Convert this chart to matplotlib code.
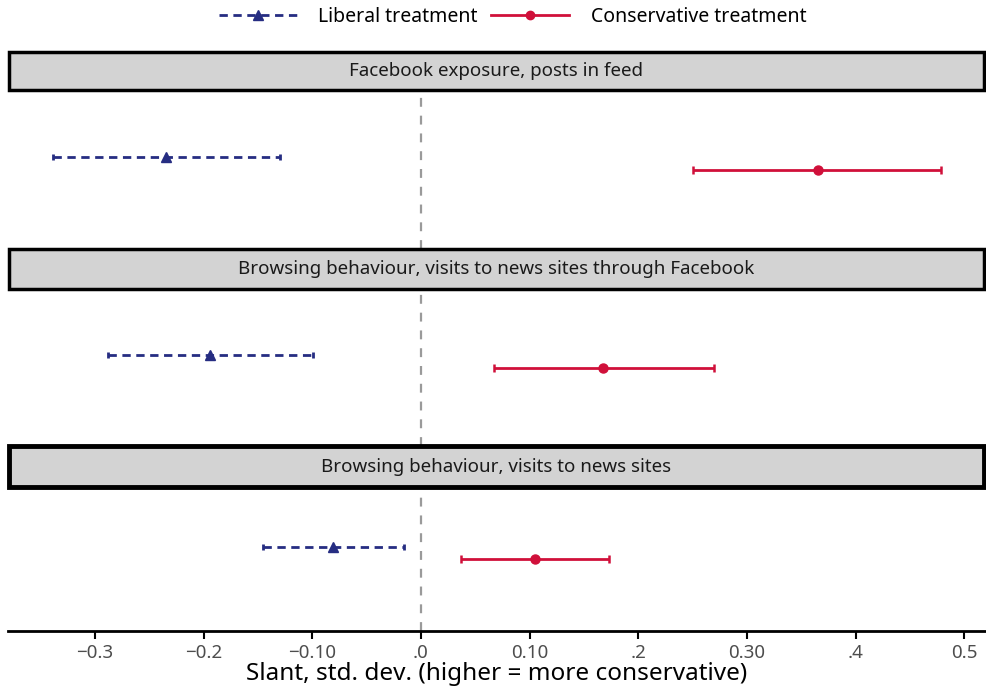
import matplotlib

matplotlib.use("Agg")
import matplotlib.pyplot as plt
from matplotlib.lines import Line2D
from matplotlib.patches import Rectangle

plt.rcParams["font.family"] = ["Noto Sans", "DejaVu Sans"]

# data
panels = [
    "Facebook exposure, posts in feed",
    "Browsing behaviour, visits to news sites through Facebook",
    "Browsing behaviour, visits to news sites",
]
liberal_est = [-0.235, -0.194, -0.081]
liberal_lo = [-0.339, -0.288, -0.145]
liberal_hi = [-0.130, -0.099, -0.016]
conserv_est = [0.365, 0.168, 0.105]
conserv_lo = [0.250, 0.067, 0.037]
conserv_hi = [0.479, 0.270, 0.173]

tick_values = [-0.3, -0.2, -0.1, 0.0, 0.1, 0.2, 0.3, 0.4, 0.5]
tick_labels = ["\u22120.3", "\u22120.2", "\u22120.10", ".0", "0.10", ".2", "0.30", ".4", "0.5"]

LIB_COLOR = "#262d82"
CON_COLOR = "#d0103a"
XLIM = (-0.380, 0.520)
LIB_DASH = (0, (3, 2))

W, H = 986, 689
fig = plt.figure(figsize=(W / 100, H / 100), dpi=100)


def px_axes(left, top, right, bottom, **kw):
    return fig.add_axes([left / W, 1 - bottom / H, (right - left) / W, (bottom - top) / H], **kw)


# (strip top, strip bottom, plot bottom) in pixels
layout = [(52, 90, 249), (249, 289, 446), (446, 487, 631)]
strip_lw = [2.5, 2.5, 3.5]

for i, (s_top, s_bot, p_bot) in enumerate(layout):
    ax = px_axes(8, s_bot, 986, p_bot)
    ax.patch.set_visible(False)
    ax.set_xlim(*XLIM)
    ax.set_ylim(-1, 1)
    ax.set_yticks([])
    for side in ["left", "right", "top"]:
        ax.spines[side].set_visible(False)
    ax.axvline(0, color="#9a9a9a", linestyle=(0, (4, 4)), linewidth=1.6, zorder=1)

    # liberal (dotted, triangle), slightly above centre
    eb = ax.errorbar(liberal_est[i], 0.16,
                     xerr=[[liberal_est[i] - liberal_lo[i]], [liberal_hi[i] - liberal_est[i]]],
                     fmt="^", color=LIB_COLOR, markersize=7.5, elinewidth=2, capsize=2.5,
                     capthick=2, zorder=3)
    eb[2][0].set_linestyle(LIB_DASH)

    ax.errorbar(conserv_est[i], 0.0,
                xerr=[[conserv_est[i] - conserv_lo[i]], [conserv_hi[i] - conserv_est[i]]],
                fmt="o", color=CON_COLOR, markersize=6.5, elinewidth=2, capsize=3,
                capthick=1.8, zorder=3)

    if i < 2:
        ax.spines["bottom"].set_visible(False)
        ax.set_xticks([])
    else:
        ax.spines["bottom"].set_linewidth(2)
        ax.set_xticks(tick_values)
        ax.set_xticklabels(tick_labels, fontsize=13.5, color="#4d4d4d")
        ax.tick_params(axis="x", length=6, width=1.5, color="black", pad=3)
        ax.set_xlabel("Slant, std. dev. (higher = more conservative)", fontsize=17.5,
                      color="black", labelpad=0)

    sax = px_axes(9, s_top, 984, s_bot)
    sax.set_xlim(0, 1)
    sax.set_ylim(0, 1)
    sax.axis("off")
    sax.add_patch(Rectangle((0, 0), 1, 1, transform=sax.transAxes, facecolor="#d3d3d3",
                            edgecolor="black", linewidth=strip_lw[i], clip_on=False))
    sax.text(0.5, 0.5, panels[i], ha="center", va="center", fontsize=13.5, color="#1a1a1a")

handles = [
    Line2D([], [], color=LIB_COLOR, linestyle=LIB_DASH, linewidth=2, marker="^", markersize=7.5),
    Line2D([], [], color=CON_COLOR, linestyle="-", linewidth=2, marker="o", markersize=6),
]
fig.legend(handles, ["Liberal treatment", "Conservative treatment"], loc="center",
           bbox_to_anchor=(0.52, 1 - 17 / H), ncol=2, frameon=False, fontsize=14,
           handlelength=4, columnspacing=0.7, handletextpad=1.1)

fig.savefig("out.png", dpi=100)
